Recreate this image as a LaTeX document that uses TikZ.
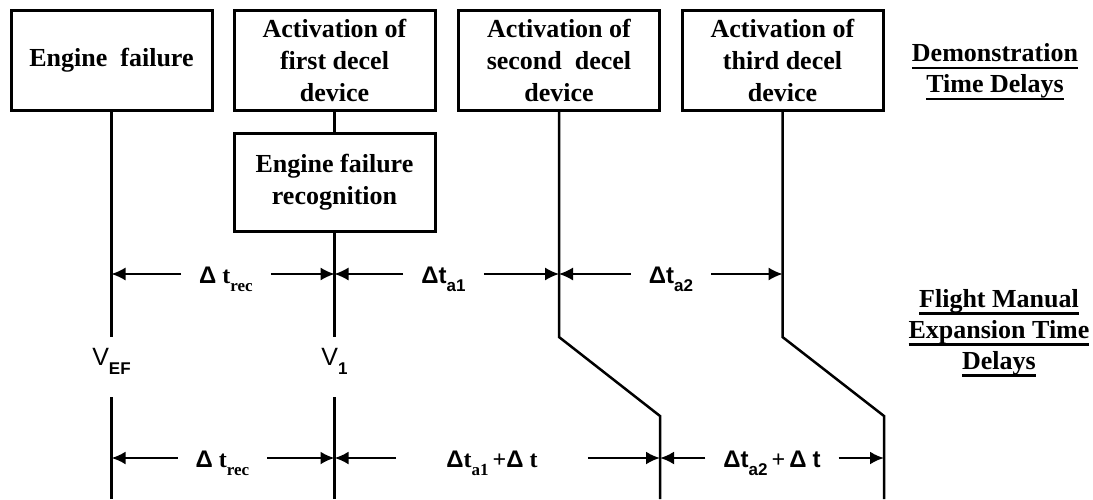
\documentclass[tikz,border=0pt]{standalone}
\usepackage{fontspec}
\setmainfont{Liberation Serif}
\setsansfont{Liberation Sans}
\usetikzlibrary{arrows.meta}
\newcommand{\ulline}[1]{\setbox0\hbox{#1}\rlap{\rule[-7.5pt]{\wd0}{2.5pt}}\box0}
\newcommand{\dd}{{\sffamily\bfseries Δ}}
\newcommand{\lowsub}[2][-8pt]{\raisebox{#1}{\fontsize{17}{17}\selectfont #2}}
\tikzset{
  event/.style={draw, line width=3pt, minimum width=201pt, minimum height=100pt,
    align=center, font=\fontsize{26}{32}\selectfont\bfseries},
  tline/.style={line width=2.5pt},
  vlabel/.style={font=\fontsize{25}{30}\sffamily, text height=18pt, text depth=22pt,
    inner xsep=0pt, inner ysep=10pt},
  dlabel/.style={font=\fontsize{24}{28}\selectfont\bfseries, text height=18pt,
    text depth=0pt, inner ysep=0pt, inner xsep=18pt},
  heading/.style={align=center, font=\fontsize{26}{31}\selectfont\bfseries},
  dimA/.style={->, line width=1.5pt},
  dimB/.style={->, line width=2.5pt}
}
\begin{document}
\begin{tikzpicture}[x=1pt, y=-1pt, >={Latex[length=14pt,width=13pt]}]
    \useasboundingbox (0,0) rectangle (1093,499);
    % Event boxes
    \node[event] (ef) at (111.5,60.5) {Engine~~failure};
    \node[event] (act1) at (334.5,60.5) {Activation of\\first decel\\device};
    \node[event] (act2) at (559,60.5) {Activation of\\second~~decel\\device};
    \node[event] (act3) at (782.5,60.5) {Activation of\\third decel\\device};
    \node[event, minimum height=98pt] (rec) at (334.5,182.5) {Engine failure\\recognition};

    % Speed labels on the time lines
    \node[vlabel, anchor=base] (vef) at (111.5,365) {V\lowsub[-9pt]{\bfseries EF}};
    \node[vlabel, anchor=base] (vone) at (334.5,365) {V\lowsub[-9pt]{\bfseries 1}};

    % Time lines
    \coordinate (efend) at (111.5,499);
    \coordinate (oneend) at (334.5,499);
    \coordinate (twobend) at (559,337);
    \coordinate (twoshift) at (660,416);
    \coordinate (twoend) at (660,499);
    \coordinate (threebend) at (782.5,337);
    \coordinate (threeshift) at (884,416);
    \coordinate (threeend) at (884,499);
    \draw[tline] (ef.south) -- (vef.north);
    \draw[tline] (vef.south) -- (efend);
    \draw[tline] (act1.south) -- (rec.north);
    \draw[tline] (rec.south) -- (vone.north);
    \draw[tline] (vone.south) -- (oneend);
    \draw[tline] (act2.south) -- (twobend) -- (twoshift) -- (twoend);
    \draw[tline] (act3.south) -- (threebend) -- (threeshift) -- (threeend);

    % Demonstration time delays
    \node[dlabel] (recA) at (226,274) {\dd~t\lowsub{rec}};
    \node[dlabel] (aoneA) at (443.5,274) {\sffamily\dd t\lowsub{a1}};
    \node[dlabel] (atwoA) at (671,274) {\sffamily\dd t\lowsub{a2}};
    \draw[dimA] (recA.west) -- (recA.west -| efend);
    \draw[dimA] (recA.east) -- (recA.east -| oneend);
    \draw[dimA] (aoneA.west) -- (aoneA.west -| oneend);
    \draw[dimA] (aoneA.east) -- (aoneA.east -| twobend);
    \draw[dimA] (atwoA.west) -- (atwoA.west -| twobend);
    \draw[dimA] (atwoA.east) -- (atwoA.east -| threebend);

    % Flight manual expansion time delays
    \node[dlabel] (recB) at (222.5,458) {\dd~t\lowsub{rec}};
    \node[dlabel, inner xsep=50pt] (aoneB) at (492,458) {\dd t\lowsub{a1}\,+\dd~t};
    \node[dlabel] (atwoB) at (772,458) {\dd{\sffamily t\lowsub{a2}}\,+\,\dd~{\sffamily t}};
    \draw[dimB] (recB.west) -- (recB.west -| efend);
    \draw[dimB] (recB.east) -- (recB.east -| oneend);
    \draw[dimB] (aoneB.west) -- (aoneB.west -| oneend);
    \draw[dimB] (aoneB.east) -- (aoneB.east -| twoend);
    \draw[dimB] (atwoB.west) -- (atwoB.west -| twoend);
    \draw[dimB] (atwoB.east) -- (atwoB.east -| threeend);

    % Headings on the right
    \node[heading] (demo) at (995,72) {\ulline{Demonstration}\\\ulline{Time Delays}};
    \node[heading] (manual) at (999,333) {\ulline{Flight Manual}\\\ulline{Expansion Time}\\\ulline{Delays}};
\end{tikzpicture}
\end{document}
